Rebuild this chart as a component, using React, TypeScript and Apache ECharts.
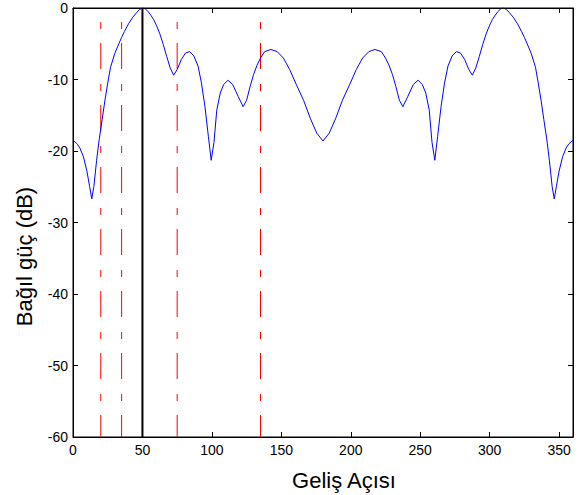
import React, { useEffect, useRef } from "react";
import * as echarts from "echarts";

// Incidence angle (degrees) and relative power (dB)
const angles = [
  0, 3, 5, 7.5, 10, 12, 13.5, 15, 17, 19, 21, 23, 25, 27, 30, 33, 35, 37, 40, 43, 46, 48, 50,
  52, 54, 56, 58, 60, 62.5, 65, 67.5, 70, 72.5, 75, 78, 81, 84, 87, 90, 92.5, 95, 97.5, 99.5,
  101.5, 103.5, 106, 108.5, 111.5, 115, 119, 122.5, 125, 127.5, 130, 132.5, 135, 138, 142.5,
  147, 151.5, 156, 161, 166, 171, 175.5, 180,
  184.5, 189, 194, 199, 204, 208.5, 213, 217.5, 222, 225, 227.5, 230, 232.5, 235, 237.5, 241,
  245, 248.5, 251.5, 254, 256.5, 258.5, 260.5, 262.5, 265, 267.5, 270, 273, 276, 279, 282, 285,
  287.5, 290, 292.5, 295, 297.5, 300, 302, 304, 306, 308, 310, 312, 314, 317, 320, 323, 325,
  327, 330, 333, 335, 337, 339, 341, 343, 345, 346.5, 348, 350, 352.5, 355, 357, 360,
];
const gainDb = [
  -18.5, -19.0, -19.6, -20.8, -22.8, -25.0, -26.7, -25.0, -21.3, -18.2, -15.6, -12.9, -10.5,
  -8.3, -6.4, -5.0, -4.1, -3.3, -2.2, -1.3, -0.6, -0.2, 0,
  -0.1, -0.5, -1.0, -1.6, -2.4, -3.6, -5.1, -6.8, -8.4, -9.4, -8.6, -7.2, -6.3, -6.1, -6.7,
  -8.1, -10.5, -13.8, -18.0, -21.3, -18.8, -14.3, -11.9, -10.7, -10.1, -10.7, -12.4, -13.8,
  -12.9, -11.0, -9.3, -8.0, -7.0, -6.1, -5.8, -6.1, -7.0, -8.6, -10.8, -12.9, -15.5, -17.5,
  -18.6,
  -17.5, -15.5, -12.9, -10.8, -8.6, -7.0, -6.1, -5.8, -6.1, -7.0, -8.0, -9.3, -11.0, -12.9,
  -13.8, -12.4, -10.7, -10.1, -10.7, -11.9, -14.3, -18.8, -21.3, -18.0, -13.8, -10.5, -8.1,
  -6.7, -6.1, -6.3, -7.2, -8.6, -9.4, -8.4, -6.8, -5.1, -3.6, -2.4, -1.6, -1.0, -0.5, -0.1, 0,
  -0.2, -0.6, -1.3, -2.2, -3.3, -4.1, -5.0, -6.4, -8.3, -10.5, -12.9, -15.6, -18.2, -21.3,
  -25.0, -26.7, -25.0, -22.8, -20.8, -19.6, -19.0, -18.5,
];

const interferenceAngles = [20, 35, 75, 135];
const steerAngle = 50;

const xMin = 0;
const xMax = 360;
const xStep = 50;
const yMin = -60;
const yMax = 0;
const yStep = 10;

const xTitle = "Geliş Açısı";
const yTitle = "Bağıl güç (dB)";

const FONT = "'Liberation Sans', Arial, Helvetica, sans-serif";

const GRID = { left: 73, right: 6, top: 8, bottom: 58 };
const W = 579;
const H = 495;

function makeAxis(position: string, min: number, max: number, interval: number, labels: boolean) {
  return {
    type: "value",
    min,
    max,
    interval,
    position,
    axisLine: { show: true, onZero: false, lineStyle: { color: "#000", width: 1 } },
    axisTick: { show: true, inside: true, length: 5, lineStyle: { color: "#000", width: 1 } },
    splitLine: { show: false },
    axisLabel: labels
      ? { show: true, color: "#000", fontSize: 14, fontFamily: FONT, margin: position === "bottom" ? 6 : 5 }
      : { show: false },
    z: 10,
  };
}

export default function App() {
  const ref = useRef<HTMLDivElement>(null);

  useEffect(() => {
    if (!ref.current) return;
    const chart = echarts.init(ref.current, undefined, { renderer: "svg" });

    const vLine = (a: number) => [
      [a, yMax],
      [a, yMin],
    ];

    const series: any[] = interferenceAngles.map((a) => ({
      type: "line",
      data: vLine(a),
      symbol: "none",
      silent: true,
      lineStyle: { color: "#ff0000", width: 1, type: [7, 14, 26, 15], dashOffset: 48 },
      z: 2,
    }));
    series.push({
      type: "line",
      data: vLine(steerAngle),
      symbol: "none",
      silent: true,
      lineStyle: { color: "#000", width: 2 },
      z: 3,
    });
    series.push({
      type: "line",
      data: angles.map((a, i) => [a, gainDb[i]]),
      symbol: "none",
      silent: true,
      lineStyle: { color: "#0000ff", width: 1 },
      z: 4,
    });

    chart.setOption({
      animation: false,
      backgroundColor: "#fff",
      grid: {
        ...GRID,
        containLabel: false,
        show: true,
        borderColor: "#000",
        borderWidth: 1,
        backgroundColor: "transparent",
      },
      xAxis: [
        makeAxis("bottom", xMin, xMax, xStep, true),
        makeAxis("top", xMin, xMax, xStep, false),
      ],
      yAxis: [
        makeAxis("left", yMin, yMax, yStep, true),
        makeAxis("right", yMin, yMax, yStep, false),
      ],
      graphic: [
        {
          type: "text",
          x: 344,
          y: 480.5,
          style: {
            text: xTitle,
            fill: "#000",
            font: `22px ${FONT}`,
            textAlign: "center",
            textVerticalAlign: "middle",
          },
        },
        {
          type: "text",
          x: 24.5,
          y: 256.5,
          rotation: Math.PI / 2,
          style: {
            text: yTitle,
            fill: "#000",
            font: `22px ${FONT}`,
            textAlign: "center",
            textVerticalAlign: "middle",
          },
        },
      ],
      series,
    });

    return () => chart.dispose();
  }, []);

  return (
    <div
      ref={ref}
      style={{ position: "absolute", left: 0, top: 0, width: W, height: H, background: "#fff" }}
    />
  );
}
